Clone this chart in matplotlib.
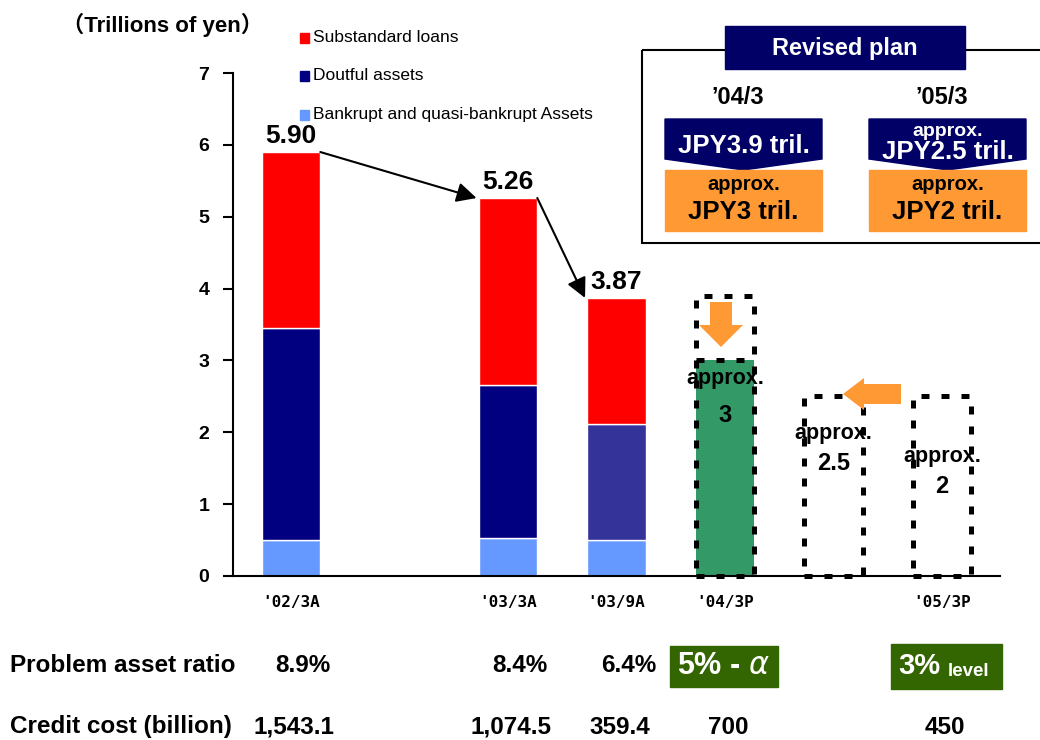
import matplotlib.pyplot as plt
from matplotlib.patches import Rectangle, Polygon, FancyArrow
from matplotlib.transforms import blended_transform_factory

plt.rcParams['font.family'] = ['Liberation Sans', 'Noto Sans CJK JP', 'DejaVu Sans']

# chart data
periods = ["'02/3A", "", "'03/3A", "'03/9A", "'04/3P", "", "'05/3P"]
actual_pos = [0, 2, 3]
bankrupt = [0.50, 0.53, 0.50]
doubtful = [2.95, 2.13, 1.62]
substandard = [2.45, 2.60, 1.75]
totals = ["5.90", "5.26", "3.87"]
series_names = ["Substandard loans", "Doutful assets", "Bankrupt and quasi-bankrupt Assets"]

plan_pos = [4, 5, 6]
plan_values = [3.0, 2.5, 2.0]
plan_labels = ["3", "2.5", "2"]
plan_box_tops = [3.9, 2.5, 2.5]

ratio_values = ["8.9%", "8.4%", "6.4%"]
cost_pos = [0, 2, 3, 4, 6]
cost_values = ["1,543.1", "1,074.5", "359.4", "700", "450"]

RED = "#FF0000"
NAVY = "#000080"
BLUE2 = "#333399"
LIGHT = "#6699FF"
GREEN = "#339966"
DKGREEN = "#336600"
ORANGE = "#FF9933"
BANNER = "#000066"

fig = plt.figure(figsize=(10.4, 7.4), dpi=100)
W, H = 1040, 740

ax = fig.add_axes([233 / W, (H - 576) / H, (1000 - 233) / W, (576 - 73) / H])
ax.set_xlim(-0.535, 6.535)
ax.set_ylim(0, 7)

bw = 0.54
ax.bar(actual_pos, bankrupt, bw, color=LIGHT, edgecolor="white", lw=1)
ax.bar(actual_pos, doubtful, bw, bottom=bankrupt,
       color=[NAVY, NAVY, BLUE2], edgecolor="white", lw=1)
bottoms = [b + d for b, d in zip(bankrupt, doubtful)]
ax.bar(actual_pos, substandard, bw, bottom=bottoms, color=RED, edgecolor="white", lw=1)

tops = [b + s for b, s in zip(bottoms, substandard)]
for x, t, lab in zip(actual_pos, tops, totals):
    ax.annotate(lab, (x, t), xytext=(0, 3), textcoords="offset points",
                ha="center", va="bottom", fontsize=19, fontweight="bold")

# arrows between actual bars
for i in range(2):
    x0, x1 = actual_pos[i], actual_pos[i + 1]
    ax.annotate("", xy=(x1 - bw / 2 - 0.02, tops[i + 1]), xytext=(x0 + bw / 2, tops[i]),
                arrowprops=dict(arrowstyle="-|>", color="black", lw=1.5,
                                mutation_scale=30, shrinkA=0, shrinkB=0))

# plan bars
dash = (0, (1.6, 2.4))
ax.bar(plan_pos[0], plan_values[0], bw, color=GREEN, zorder=2)
ax.bar(plan_pos, plan_box_tops, bw, fill=False, edgecolor="black", lw=3.6,
       linestyle=dash, zorder=3, clip_on=False)
ax.plot([plan_pos[0] - bw / 2, plan_pos[0] + bw / 2], [plan_values[0]] * 2,
        color="black", lw=3.6, linestyle=dash, zorder=3)

approx_y = [2.75, 1.99, 1.66]
label_y = [2.24, 1.57, 1.24]
for x, ya, yl, lab in zip(plan_pos, approx_y, label_y, plan_labels):
    ax.text(x, ya, "approx.", ha="center", va="center", fontsize=15.5,
            fontweight="bold", zorder=4)
    ax.text(x, yl, lab, ha="center", va="center", fontsize=17,
            fontweight="bold", zorder=4)

for s in ["top", "right"]:
    ax.spines[s].set_visible(False)
for s in ["left", "bottom"]:
    ax.spines[s].set_linewidth(1.5)
ax.set_yticks(range(8))
ax.tick_params(axis="y", direction="out", length=7, width=1.5, pad=10, labelsize=14)
for t in ax.get_yticklabels():
    t.set_fontweight("bold")
ax.set_xticks(range(len(periods)))
ax.set_xticklabels(periods, fontfamily="DejaVu Sans Mono", fontweight="bold", fontsize=11.5)
ax.tick_params(axis="x", length=0, pad=14)

# overlay in pixel coordinates for annotations
ov = fig.add_axes([0, 0, 1, 1], zorder=5)
ov.set_xlim(0, W)
ov.set_ylim(H, 0)
ov.axis("off")
ov.patch.set_alpha(0)

ov.text(62, 25, "（Trillions of yen）", fontsize=16, fontweight="bold", va="center", ha="left")

leg_colors = [RED, NAVY, LIGHT]
leg_y = [38, 76, 115]
for c, y, name in zip(leg_colors, leg_y, series_names):
    ov.add_patch(Rectangle((300, y - 5), 9, 10, color=c))
    ov.text(313, y, name, fontsize=12.5, va="center", ha="left")

# orange arrows
ov.add_patch(FancyArrow(721, 302, 0, 45, width=22, head_width=44, head_length=22,
                        length_includes_head=True, color=ORANGE, lw=0))
ov.add_patch(FancyArrow(901, 394, -58, 0, width=20, head_width=32, head_length=21,
                        length_includes_head=True, color=ORANGE, lw=0))

# revised plan panel
ov.add_patch(Rectangle((642, 50), 420, 193, fill=False, edgecolor="black", lw=1.5,
                       clip_on=False))
ov.add_patch(Rectangle((725, 26), 240, 43, color=BANNER))
ov.text(845, 48, "Revised plan", color="white", fontsize=17, fontweight="bold",
        ha="center", va="center")

for x0, head in [(665, "’04/3"), (869, "’05/3")]:
    cx = x0 + 78.5
    ov.text(cx - 6, 98, head, fontsize=17, fontweight="bold", ha="center", va="center")
    ov.add_patch(Polygon([(x0, 119), (x0 + 157, 119), (x0 + 157, 159), (cx, 170),
                          (x0, 159)], color=BANNER))
    ov.add_patch(Rectangle((x0, 170), 157, 61, color=ORANGE))

ov.text(743.5, 146, "JPY3.9 tril.", color="white", fontsize=18.5, fontweight="bold",
        ha="center", va="center")
ov.text(947.5, 131, "approx.", color="white", fontsize=14, fontweight="bold",
        ha="center", va="center")
ov.text(947.5, 152, "JPY2.5 tril.", color="white", fontsize=18.5, fontweight="bold",
        ha="center", va="center")
for cx, lab in [(743.5, "JPY3 tril."), (947.5, "JPY2 tril.")]:
    ov.text(cx, 184, "approx.", fontsize=14.5, fontweight="bold", ha="center", va="center")
    ov.text(cx, 212, lab, fontsize=18.5, fontweight="bold", ha="center", va="center")

# bottom rows
bt = blended_transform_factory(ax.transData, ov.transData)
ov.text(10, 665, "Problem asset ratio", fontsize=17.5, fontweight="bold", va="center")
ov.text(10, 727, "Credit cost (billion)", fontsize=17.5, fontweight="bold", va="center")
for x, v in zip(actual_pos, ratio_values):
    ov.text(x + 0.11, 665, v, transform=bt, fontsize=17.5, fontweight="bold",
            ha="center", va="center")
for x, v in zip(cost_pos, cost_values):
    ov.text(x + 0.03, 727, v, transform=bt, fontsize=17.5, fontweight="bold",
            ha="center", va="center")

ov.add_patch(Rectangle((3.49, 646), 1.0, 41, transform=bt, color=DKGREEN))
ov.text(3.99, 666, r"5% - $\alpha$", transform=bt, color="white", fontsize=22,
        fontweight="bold", ha="center", va="center")
ov.add_patch(Rectangle((5.53, 644), 1.02, 45, transform=bt, color=DKGREEN))
ov.text(5.60, 666, "3%", transform=bt, color="white", fontsize=21,
        fontweight="bold", ha="left", va="center")
ov.text(6.05, 671, "level", transform=bt, color="white", fontsize=13.5,
        fontweight="bold", ha="left", va="center")

fig.savefig("out.png", dpi=100)
